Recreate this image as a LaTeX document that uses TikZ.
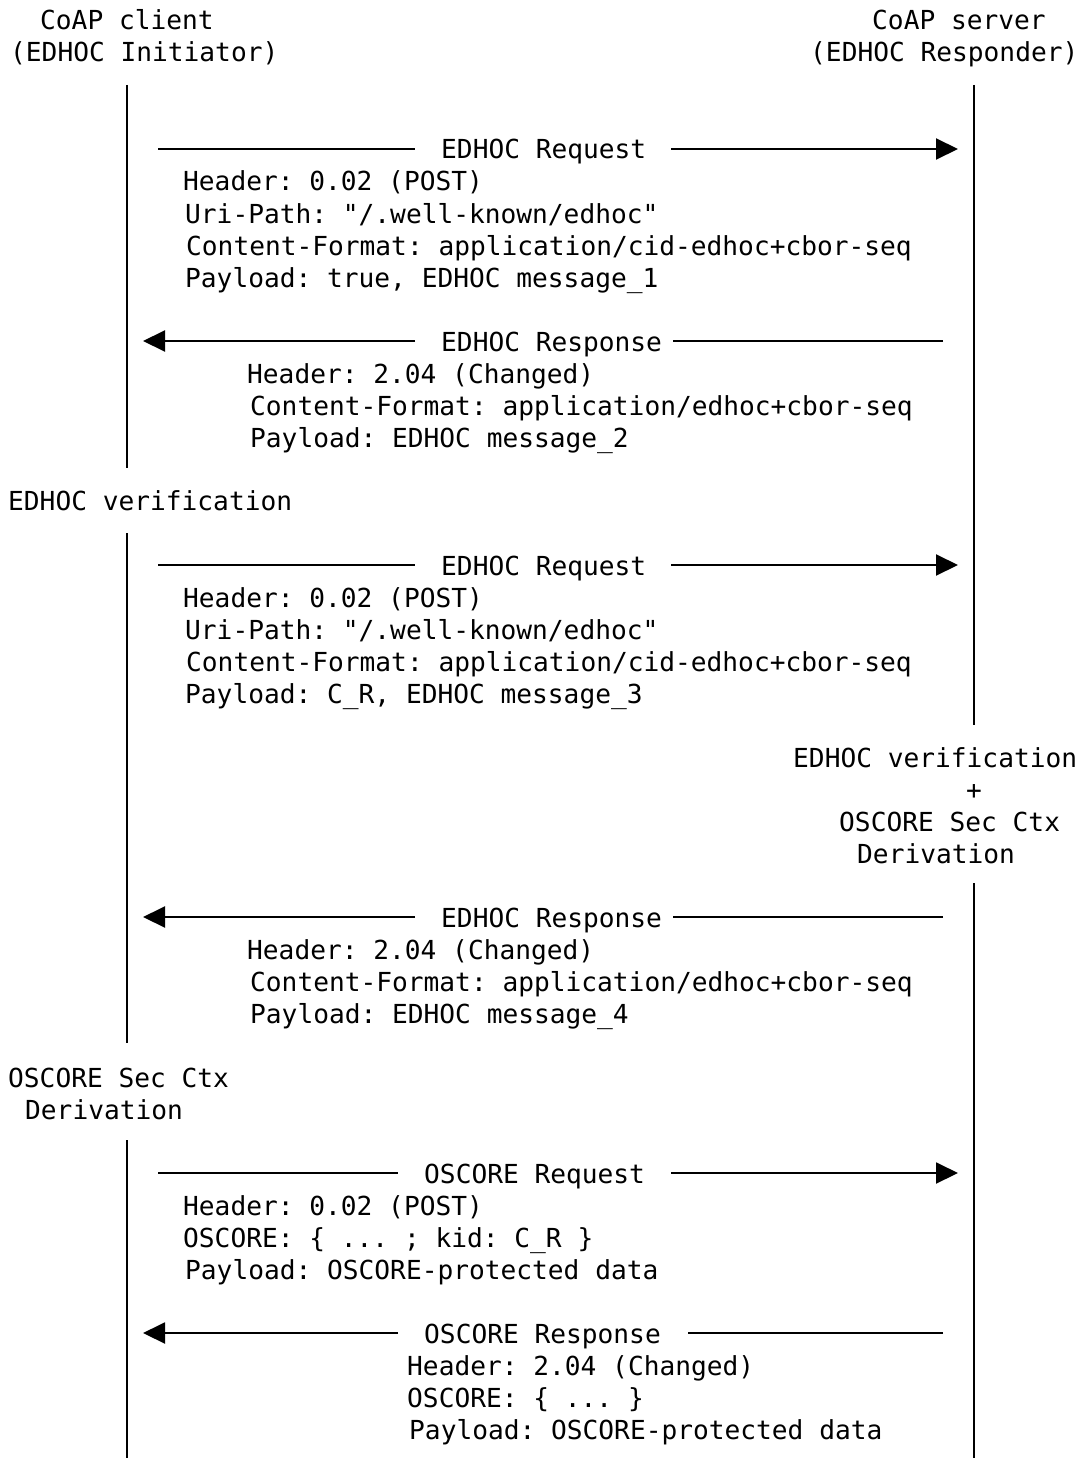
\documentclass[tikz,border=0pt]{standalone}
\usepackage{fontspec}
\setmonofont{DejaVu Sans Mono}
\usetikzlibrary{arrows.meta}
\begin{document}
\begin{tikzpicture}[x=1pt,y=-1pt,
  txt/.style={anchor=base west,inner sep=0pt,font=\ttfamily\fontsize{26.2}{32}\selectfont},
  ctxt/.style={anchor=base,inner sep=0pt,font=\ttfamily\fontsize{26.2}{32}\selectfont},
  life/.style={line width=2pt},
  msg/.style={line width=2pt},
  tip/.style={-{Triangle[length=22pt,width=21pt]}}]
\useasboundingbox (0,0) rectangle (1079,1458);

% participants
\node[txt] (cli1) at (40,30) {CoAP client};
\node[txt] (cli2) at (10,62) {(EDHOC Initiator)};
\node[txt] (srv1) at (872,30) {CoAP server};
\node[txt] (srv2) at (810,62) {(EDHOC Responder)};

% lifeline end points
\coordinate (L1a) at (127,85);   \coordinate (L1b) at (127,468);
\coordinate (L2a) at (127,533);  \coordinate (L2b) at (127,1043);
\coordinate (L3a) at (127,1140); \coordinate (L3b) at (127,1458);
\coordinate (R1a) at (974,85);   \coordinate (R1b) at (974,725);
\coordinate (R2a) at (974,883);  \coordinate (R2b) at (974,1458);
\draw[life] (L1a) -- (L1b);
\draw[life] (L2a) -- (L2b);
\draw[life] (L3a) -- (L3b);
\draw[life] (R1a) -- (R1b);
\draw[life] (R2a) -- (R2b);

% message 1: EDHOC Request
\coordinate (m1a) at (158,149); \coordinate (m1b) at (415,149);
\coordinate (m1c) at (671,149); \coordinate (m1d) at (958,149);
\node[txt] (m1) at (441,159) {EDHOC Request};
\draw[msg] (m1a) -- (m1b);
\draw[msg,tip] (m1c) -- (m1d);
\node[txt] (m1t1) at (183,191) {Header: 0.02 (POST)};
\node[txt] (m1t2) at (185,223) {Uri-Path: "/.well-known/edhoc"};
\node[txt] (m1t3) at (186,255) {Content-Format: application/cid-edhoc+cbor-seq};
\node[txt] (m1t4) at (185,287) {Payload: true, EDHOC message\_1};

% message 2: EDHOC Response
\coordinate (m2a) at (943,341); \coordinate (m2b) at (673,341);
\coordinate (m2c) at (415,341); \coordinate (m2d) at (143,341);
\node[txt] (m2) at (441,351) {EDHOC Response};
\draw[msg] (m2a) -- (m2b);
\draw[msg,tip] (m2c) -- (m2d);
\node[txt] (m2t1) at (247,383) {Header: 2.04 (Changed)};
\node[txt] (m2t2) at (250,415) {Content-Format: application/edhoc+cbor-seq};
\node[txt] (m2t3) at (250,447) {Payload: EDHOC message\_2};

\node[txt] (iv) at (8,510) {EDHOC verification};

% message 3: EDHOC Request
\coordinate (m3a) at (158,565); \coordinate (m3b) at (415,565);
\coordinate (m3c) at (671,565); \coordinate (m3d) at (958,565);
\node[txt] (m3) at (441,575) {EDHOC Request};
\draw[msg] (m3a) -- (m3b);
\draw[msg,tip] (m3c) -- (m3d);
\node[txt] (m3t1) at (183,607) {Header: 0.02 (POST)};
\node[txt] (m3t2) at (185,639) {Uri-Path: "/.well-known/edhoc"};
\node[txt] (m3t3) at (186,671) {Content-Format: application/cid-edhoc+cbor-seq};
\node[txt] (m3t4) at (185,703) {Payload: C\_R, EDHOC message\_3};

% responder processing
\node[txt] (rv1) at (793,767) {EDHOC verification};
\node[ctxt] (rv2) at (974,799) {+};
\node[txt] (rv3) at (839,831) {OSCORE Sec Ctx};
\node[txt] (rv4) at (857,863) {Derivation};

% message 4: EDHOC Response
\coordinate (m4a) at (943,917); \coordinate (m4b) at (673,917);
\coordinate (m4c) at (415,917); \coordinate (m4d) at (143,917);
\node[txt] (m4) at (441,927) {EDHOC Response};
\draw[msg] (m4a) -- (m4b);
\draw[msg,tip] (m4c) -- (m4d);
\node[txt] (m4t1) at (247,959) {Header: 2.04 (Changed)};
\node[txt] (m4t2) at (250,991) {Content-Format: application/edhoc+cbor-seq};
\node[txt] (m4t3) at (250,1023) {Payload: EDHOC message\_4};

% initiator processing
\node[txt] (id1) at (8,1087) {OSCORE Sec Ctx};
\node[txt] (id2) at (25,1119) {Derivation};

% message 5: OSCORE Request
\coordinate (m5a) at (158,1173); \coordinate (m5b) at (398,1173);
\coordinate (m5c) at (671,1173); \coordinate (m5d) at (958,1173);
\node[txt] (m5) at (424,1183) {OSCORE Request};
\draw[msg] (m5a) -- (m5b);
\draw[msg,tip] (m5c) -- (m5d);
\node[txt] (m5t1) at (183,1215) {Header: 0.02 (POST)};
\node[txt] (m5t2) at (183,1247) {OSCORE: \{ ... ; kid: C\_R \}};
\node[txt] (m5t3) at (185,1279) {Payload: OSCORE-protected data};

% message 6: OSCORE Response
\coordinate (m6a) at (943,1333); \coordinate (m6b) at (688,1333);
\coordinate (m6c) at (398,1333); \coordinate (m6d) at (143,1333);
\node[txt] (m6) at (424,1343) {OSCORE Response};
\draw[msg] (m6a) -- (m6b);
\draw[msg,tip] (m6c) -- (m6d);
\node[txt] (m6t1) at (407,1375) {Header: 2.04 (Changed)};
\node[txt] (m6t2) at (407,1407) {OSCORE: \{ ... \}};
\node[txt] (m6t3) at (409,1439) {Payload: OSCORE-protected data};
\end{tikzpicture}
\end{document}
